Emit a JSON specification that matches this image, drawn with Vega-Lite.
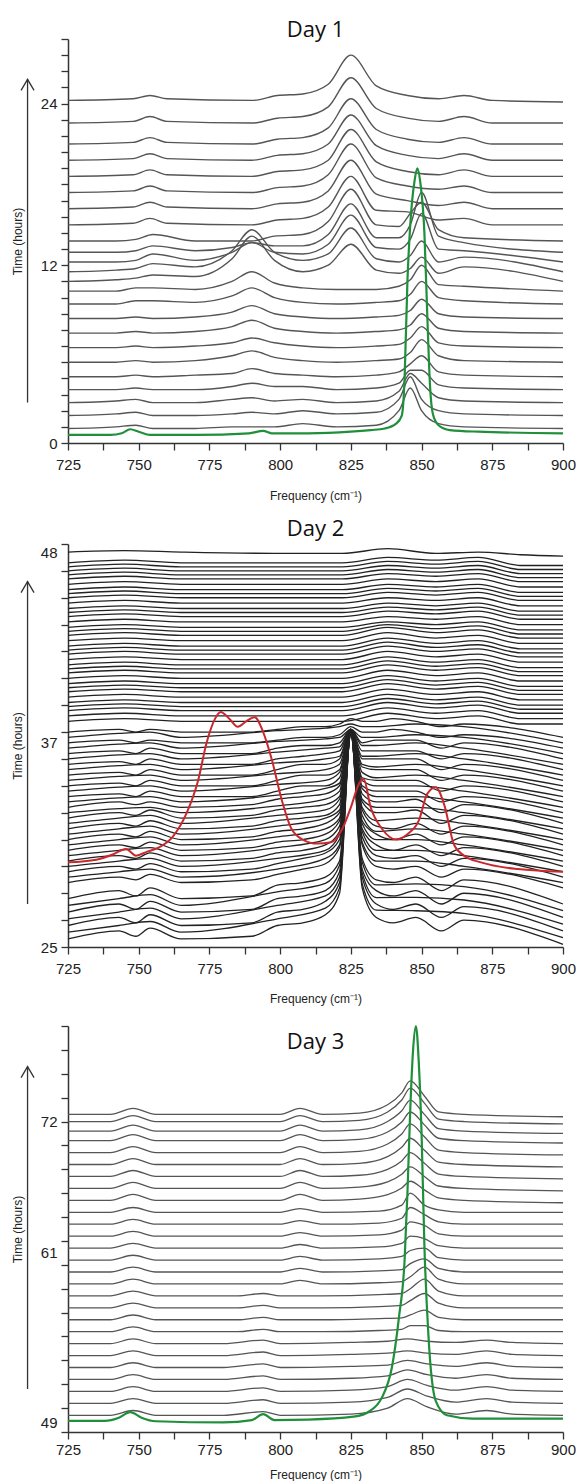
{
"$schema":"https://vega.github.io/schema/vega-lite/v6.json",
"background":"white",
"padding":{"left":11,"top":19,"right":0,"bottom":0},
"spacing":17,
"align":{"row":"none","column":"each"},
"config":{
 "view":{"stroke":null},
 "axis":{"grid":false,"domainColor":"#333","tickColor":"#333","labelColor":"#222","titleColor":"#222","labelFont":"Liberation Sans","titleFont":"Liberation Sans","labelFontSize":15,"titleFontSize":12,"titleFontWeight":"normal","domainWidth":1.5,"tickWidth":1.3,"tickSize":7,"labelOverlap":false,"labelFlush":false},
 "title":{"font":"Open Sans","fontSize":22,"fontWeight":"normal","color":"#111","anchor":"middle","frame":"group"}
},
"datasets":{
"a":[
{"s":1,"x":725,"y":9},{"s":1,"x":742,"y":10},{"s":1,"x":749,"y":11},{"s":1,"x":755,"y":9},{"s":1,"x":770,"y":9},{"s":1,"x":783,"y":10},{"s":1,"x":790,"y":10},{"s":1,"x":798,"y":10},{"s":1,"x":808,"y":12},{"s":1,"x":820,"y":10},{"s":1,"x":834,"y":11},{"s":1,"x":842,"y":20},{"s":1,"x":846,"y":34},{"s":1,"x":850,"y":20},{"s":1,"x":856,"y":12},{"s":1,"x":865,"y":10},{"s":1,"x":900,"y":9},
{"s":2,"x":725,"y":17},{"s":2,"x":742,"y":18},{"s":2,"x":749,"y":19},{"s":2,"x":755,"y":17},{"s":2,"x":770,"y":17},{"s":2,"x":783,"y":18},{"s":2,"x":790,"y":19},{"s":2,"x":798,"y":18},{"s":2,"x":808,"y":20},{"s":2,"x":820,"y":18},{"s":2,"x":834,"y":19},{"s":2,"x":842,"y":27},{"s":2,"x":846,"y":41},{"s":2,"x":850,"y":27},{"s":2,"x":856,"y":20},{"s":2,"x":865,"y":18},{"s":2,"x":900,"y":17},
{"s":3,"x":725,"y":25},{"s":3,"x":742,"y":26},{"s":3,"x":749,"y":27},{"s":3,"x":755,"y":25},{"s":3,"x":770,"y":25},{"s":3,"x":783,"y":27},{"s":3,"x":790,"y":28},{"s":3,"x":798,"y":26},{"s":3,"x":808,"y":27},{"s":3,"x":820,"y":25},{"s":3,"x":834,"y":26},{"s":3,"x":842,"y":32},{"s":3,"x":846,"y":43},{"s":3,"x":850,"y":37},{"s":3,"x":856,"y":28},{"s":3,"x":865,"y":26},{"s":3,"x":900,"y":25},
{"s":4,"x":725,"y":33},{"s":4,"x":742,"y":33},{"s":4,"x":749,"y":34},{"s":4,"x":755,"y":33},{"s":4,"x":770,"y":33},{"s":4,"x":783,"y":35},{"s":4,"x":790,"y":37},{"s":4,"x":798,"y":35},{"s":4,"x":808,"y":35},{"s":4,"x":820,"y":33},{"s":4,"x":834,"y":34},{"s":4,"x":842,"y":37},{"s":4,"x":846,"y":45},{"s":4,"x":850,"y":45},{"s":4,"x":856,"y":36},{"s":4,"x":865,"y":34},{"s":4,"x":900,"y":33},
{"s":5,"x":725,"y":41},{"s":5,"x":742,"y":41},{"s":5,"x":749,"y":42},{"s":5,"x":755,"y":41},{"s":5,"x":770,"y":42},{"s":5,"x":783,"y":43},{"s":5,"x":790,"y":46},{"s":5,"x":798,"y":43},{"s":5,"x":808,"y":42},{"s":5,"x":820,"y":41},{"s":5,"x":834,"y":42},{"s":5,"x":842,"y":44},{"s":5,"x":846,"y":49},{"s":5,"x":850,"y":54},{"s":5,"x":856,"y":44},{"s":5,"x":865,"y":42},{"s":5,"x":900,"y":41},
{"s":6,"x":725,"y":50},{"s":6,"x":742,"y":50},{"s":6,"x":749,"y":51},{"s":6,"x":755,"y":50},{"s":6,"x":770,"y":51},{"s":6,"x":783,"y":54},{"s":6,"x":790,"y":57},{"s":6,"x":798,"y":53},{"s":6,"x":808,"y":51},{"s":6,"x":820,"y":50},{"s":6,"x":834,"y":51},{"s":6,"x":842,"y":52},{"s":6,"x":846,"y":56},{"s":6,"x":850,"y":64},{"s":6,"x":856,"y":54},{"s":6,"x":865,"y":51},{"s":6,"x":900,"y":50},
{"s":7,"x":725,"y":59},{"s":7,"x":742,"y":59},{"s":7,"x":749,"y":60},{"s":7,"x":755,"y":59},{"s":7,"x":770,"y":60},{"s":7,"x":783,"y":62},{"s":7,"x":790,"y":65},{"s":7,"x":798,"y":62},{"s":7,"x":808,"y":60},{"s":7,"x":820,"y":59},{"s":7,"x":834,"y":60},{"s":7,"x":842,"y":61},{"s":7,"x":846,"y":65},{"s":7,"x":850,"y":72},{"s":7,"x":856,"y":62},{"s":7,"x":865,"y":60},{"s":7,"x":900,"y":59},
{"s":8,"x":725,"y":68},{"s":8,"x":742,"y":68},{"s":8,"x":749,"y":69},{"s":8,"x":755,"y":68},{"s":8,"x":770,"y":69},{"s":8,"x":783,"y":72},{"s":8,"x":790,"y":76},{"s":8,"x":798,"y":71},{"s":8,"x":808,"y":69},{"s":8,"x":820,"y":68},{"s":8,"x":834,"y":69},{"s":8,"x":842,"y":70},{"s":8,"x":846,"y":73},{"s":8,"x":850,"y":80},{"s":8,"x":856,"y":71},{"s":8,"x":865,"y":69},{"s":8,"x":900,"y":68},
{"s":9,"x":725,"y":77},{"s":9,"x":742,"y":77},{"s":9,"x":749,"y":78},{"s":9,"x":755,"y":77},{"s":9,"x":770,"y":78},{"s":9,"x":783,"y":81},{"s":9,"x":790,"y":85},{"s":9,"x":798,"y":80},{"s":9,"x":808,"y":78},{"s":9,"x":820,"y":77},{"s":9,"x":834,"y":78},{"s":9,"x":842,"y":79},{"s":9,"x":846,"y":82},{"s":9,"x":850,"y":89},{"s":9,"x":856,"y":80},{"s":9,"x":865,"y":78},{"s":9,"x":900,"y":77},
{"s":10,"x":725,"y":86},{"s":10,"x":742,"y":86},{"s":10,"x":749,"y":88},{"s":10,"x":755,"y":88},{"s":10,"x":770,"y":87},{"s":10,"x":783,"y":91},{"s":10,"x":790,"y":96},{"s":10,"x":798,"y":90},{"s":10,"x":808,"y":87},{"s":10,"x":820,"y":86},{"s":10,"x":834,"y":87},{"s":10,"x":842,"y":88},{"s":10,"x":846,"y":92},{"s":10,"x":850,"y":100},{"s":10,"x":856,"y":90},{"s":10,"x":865,"y":88},{"s":10,"x":900,"y":86},
{"s":11,"x":725,"y":94},{"s":11,"x":742,"y":94},{"s":11,"x":749,"y":96},{"s":11,"x":755,"y":96},{"s":11,"x":770,"y":95},{"s":11,"x":783,"y":100},{"s":11,"x":790,"y":106},{"s":11,"x":798,"y":99},{"s":11,"x":808,"y":96},{"s":11,"x":820,"y":95},{"s":11,"x":834,"y":95},{"s":11,"x":842,"y":97},{"s":11,"x":846,"y":101},{"s":11,"x":850,"y":110},{"s":11,"x":856,"y":98},{"s":11,"x":865,"y":97},{"s":11,"x":900,"y":94},
{"s":12,"x":725,"y":100},{"s":12,"x":742,"y":101},{"s":12,"x":749,"y":102},{"s":12,"x":755,"y":104},{"s":12,"x":770,"y":103},{"s":12,"x":783,"y":114},{"s":12,"x":790,"y":128},{"s":12,"x":798,"y":113},{"s":12,"x":808,"y":106},{"s":12,"x":817,"y":110},{"s":12,"x":825,"y":123},{"s":12,"x":834,"y":107},{"s":12,"x":842,"y":105},{"s":12,"x":846,"y":108},{"s":12,"x":850,"y":115},{"s":12,"x":856,"y":105},{"s":12,"x":865,"y":109},{"s":12,"x":900,"y":100},
{"s":13,"x":725,"y":106},{"s":13,"x":742,"y":107},{"s":13,"x":749,"y":108},{"s":13,"x":755,"y":111},{"s":13,"x":770,"y":109},{"s":13,"x":783,"y":119},{"s":13,"x":790,"y":132},{"s":13,"x":798,"y":118},{"s":13,"x":808,"y":113},{"s":13,"x":817,"y":117},{"s":13,"x":825,"y":133},{"s":13,"x":834,"y":114},{"s":13,"x":842,"y":112},{"s":13,"x":846,"y":116},{"s":13,"x":850,"y":125},{"s":13,"x":856,"y":112},{"s":13,"x":865,"y":115},{"s":13,"x":900,"y":106},
{"s":14,"x":725,"y":112},{"s":14,"x":742,"y":112},{"s":14,"x":749,"y":113},{"s":14,"x":755,"y":117},{"s":14,"x":770,"y":113},{"s":14,"x":783,"y":118},{"s":14,"x":790,"y":124},{"s":14,"x":798,"y":118},{"s":14,"x":808,"y":117},{"s":14,"x":817,"y":123},{"s":14,"x":825,"y":141},{"s":14,"x":834,"y":121},{"s":14,"x":842,"y":120},{"s":14,"x":846,"y":126},{"s":14,"x":850,"y":142},{"s":14,"x":856,"y":120},{"s":14,"x":865,"y":119},{"s":14,"x":900,"y":112},
{"s":15,"x":725,"y":118},{"s":15,"x":742,"y":118},{"s":15,"x":749,"y":119},{"s":15,"x":755,"y":122},{"s":15,"x":770,"y":119},{"s":15,"x":783,"y":121},{"s":15,"x":790,"y":124},{"s":15,"x":798,"y":122},{"s":15,"x":808,"y":122},{"s":15,"x":817,"y":129},{"s":15,"x":825,"y":148},{"s":15,"x":834,"y":127},{"s":15,"x":842,"y":127},{"s":15,"x":846,"y":135},{"s":15,"x":850,"y":155},{"s":15,"x":856,"y":128},{"s":15,"x":865,"y":124},{"s":15,"x":900,"y":118},
{"s":16,"x":725,"y":125},{"s":16,"x":742,"y":125},{"s":16,"x":749,"y":126},{"s":16,"x":755,"y":129},{"s":16,"x":770,"y":125},{"s":16,"x":783,"y":125},{"s":16,"x":790,"y":125},{"s":16,"x":798,"y":128},{"s":16,"x":808,"y":129},{"s":16,"x":817,"y":137},{"s":16,"x":825,"y":157},{"s":16,"x":834,"y":135},{"s":16,"x":842,"y":134},{"s":16,"x":846,"y":142},{"s":16,"x":850,"y":149},{"s":16,"x":856,"y":132},{"s":16,"x":865,"y":127},{"s":16,"x":900,"y":125},
{"s":17,"x":725,"y":135},{"s":17,"x":748,"y":136},{"s":17,"x":754,"y":139},{"s":17,"x":760,"y":136},{"s":17,"x":790,"y":135},{"s":17,"x":799,"y":138},{"s":17,"x":808,"y":139},{"s":17,"x":817,"y":146},{"s":17,"x":825,"y":165},{"s":17,"x":834,"y":144},{"s":17,"x":845,"y":143},{"s":17,"x":856,"y":138},{"s":17,"x":865,"y":139},{"s":17,"x":875,"y":135},{"s":17,"x":900,"y":135},
{"s":18,"x":725,"y":145},{"s":18,"x":748,"y":146},{"s":18,"x":754,"y":149},{"s":18,"x":760,"y":146},{"s":18,"x":790,"y":145},{"s":18,"x":799,"y":148},{"s":18,"x":808,"y":149},{"s":18,"x":817,"y":156},{"s":18,"x":825,"y":175},{"s":18,"x":834,"y":154},{"s":18,"x":845,"y":150},{"s":18,"x":856,"y":147},{"s":18,"x":865,"y":149},{"s":18,"x":875,"y":145},{"s":18,"x":900,"y":145},
{"s":19,"x":725,"y":155},{"s":19,"x":748,"y":156},{"s":19,"x":754,"y":159},{"s":19,"x":760,"y":156},{"s":19,"x":790,"y":155},{"s":19,"x":799,"y":158},{"s":19,"x":808,"y":159},{"s":19,"x":817,"y":166},{"s":19,"x":825,"y":185},{"s":19,"x":834,"y":164},{"s":19,"x":845,"y":159},{"s":19,"x":856,"y":157},{"s":19,"x":865,"y":159},{"s":19,"x":875,"y":155},{"s":19,"x":900,"y":155},
{"s":20,"x":725,"y":165},{"s":20,"x":748,"y":166},{"s":20,"x":754,"y":169},{"s":20,"x":760,"y":166},{"s":20,"x":790,"y":165},{"s":20,"x":799,"y":168},{"s":20,"x":808,"y":169},{"s":20,"x":817,"y":175},{"s":20,"x":825,"y":194},{"s":20,"x":834,"y":174},{"s":20,"x":845,"y":168},{"s":20,"x":856,"y":166},{"s":20,"x":865,"y":169},{"s":20,"x":875,"y":165},{"s":20,"x":900,"y":165},
{"s":21,"x":725,"y":175},{"s":21,"x":748,"y":176},{"s":21,"x":754,"y":179},{"s":21,"x":760,"y":176},{"s":21,"x":790,"y":175},{"s":21,"x":799,"y":178},{"s":21,"x":808,"y":179},{"s":21,"x":817,"y":185},{"s":21,"x":825,"y":203},{"s":21,"x":834,"y":184},{"s":21,"x":845,"y":178},{"s":21,"x":856,"y":176},{"s":21,"x":865,"y":179},{"s":21,"x":875,"y":175},{"s":21,"x":900,"y":175},
{"s":22,"x":725,"y":185},{"s":22,"x":748,"y":186},{"s":22,"x":754,"y":189},{"s":22,"x":760,"y":186},{"s":22,"x":790,"y":185},{"s":22,"x":799,"y":188},{"s":22,"x":808,"y":189},{"s":22,"x":817,"y":195},{"s":22,"x":825,"y":213},{"s":22,"x":834,"y":194},{"s":22,"x":845,"y":188},{"s":22,"x":856,"y":186},{"s":22,"x":865,"y":189},{"s":22,"x":875,"y":185},{"s":22,"x":900,"y":185},
{"s":23,"x":725,"y":198},{"s":23,"x":748,"y":199},{"s":23,"x":754,"y":202},{"s":23,"x":760,"y":199},{"s":23,"x":790,"y":198},{"s":23,"x":799,"y":201},{"s":23,"x":808,"y":202},{"s":23,"x":817,"y":208},{"s":23,"x":825,"y":226},{"s":23,"x":834,"y":207},{"s":23,"x":845,"y":201},{"s":23,"x":856,"y":199},{"s":23,"x":865,"y":202},{"s":23,"x":875,"y":198},{"s":23,"x":900,"y":198},
{"s":24,"x":725,"y":212},{"s":24,"x":748,"y":213},{"s":24,"x":754,"y":215},{"s":24,"x":760,"y":213},{"s":24,"x":790,"y":212},{"s":24,"x":799,"y":215},{"s":24,"x":808,"y":216},{"s":24,"x":817,"y":222},{"s":24,"x":825,"y":240},{"s":24,"x":834,"y":221},{"s":24,"x":845,"y":215},{"s":24,"x":856,"y":213},{"s":24,"x":865,"y":215},{"s":24,"x":875,"y":212},{"s":24,"x":900,"y":211}
],
"g1":[
{"x":725,"y":5},{"x":740,"y":5},{"x":744,"y":6},{"x":747,"y":8.5},{"x":750,"y":7},{"x":754,"y":5},{"x":770,"y":5},{"x":789,"y":6},{"x":794,"y":7.5},{"x":797,"y":6},{"x":810,"y":6},{"x":825,"y":7},{"x":832,"y":8},{"x":837,"y":9},{"x":841,"y":12},{"x":843,"y":17},{"x":844,"y":40},{"x":845,"y":100},{"x":846,"y":135},{"x":847.5,"y":162},{"x":848.5,"y":170},{"x":849.5,"y":162},{"x":851,"y":130},{"x":852,"y":80},{"x":853,"y":35},{"x":854,"y":18},{"x":856,"y":11},{"x":860,"y":8},{"x":870,"y":7},{"x":900,"y":6}
],
"b":[
{"s":1,"x":725,"y":3},{"s":1,"x":743,"y":6},{"s":1,"x":749,"y":4},{"s":1,"x":754,"y":7},{"s":1,"x":765,"y":3},{"s":1,"x":790,"y":4},{"s":1,"x":799,"y":8},{"s":1,"x":808,"y":9},{"s":1,"x":816,"y":12},{"s":1,"x":821,"y":20},{"s":1,"x":825,"y":80},{"s":1,"x":829,"y":22},{"s":1,"x":834,"y":11},{"s":1,"x":840,"y":9},{"s":1,"x":848,"y":11},{"s":1,"x":857,"y":6},{"s":1,"x":865,"y":10},{"s":1,"x":900,"y":1},
{"s":2,"x":725,"y":8},{"s":2,"x":743,"y":11},{"s":2,"x":749,"y":9},{"s":2,"x":754,"y":12},{"s":2,"x":765,"y":8},{"s":2,"x":790,"y":9},{"s":2,"x":799,"y":13},{"s":2,"x":808,"y":14},{"s":2,"x":816,"y":17},{"s":2,"x":821,"y":24},{"s":2,"x":825,"y":80},{"s":2,"x":829,"y":26},{"s":2,"x":834,"y":16},{"s":2,"x":840,"y":14},{"s":2,"x":848,"y":16},{"s":2,"x":857,"y":11},{"s":2,"x":865,"y":15},{"s":2,"x":900,"y":6},
{"s":3,"x":725,"y":13},{"s":3,"x":743,"y":16},{"s":3,"x":749,"y":14},{"s":3,"x":754,"y":17},{"s":3,"x":765,"y":13},{"s":3,"x":790,"y":14},{"s":3,"x":799,"y":18},{"s":3,"x":808,"y":19},{"s":3,"x":816,"y":21},{"s":3,"x":821,"y":28},{"s":3,"x":825,"y":79},{"s":3,"x":829,"y":29},{"s":3,"x":834,"y":21},{"s":3,"x":840,"y":19},{"s":3,"x":848,"y":21},{"s":3,"x":857,"y":16},{"s":3,"x":865,"y":20},{"s":3,"x":900,"y":11},
{"s":4,"x":725,"y":18},{"s":4,"x":743,"y":21},{"s":4,"x":749,"y":19},{"s":4,"x":754,"y":22},{"s":4,"x":765,"y":18},{"s":4,"x":790,"y":19},{"s":4,"x":799,"y":23},{"s":4,"x":808,"y":24},{"s":4,"x":816,"y":26},{"s":4,"x":821,"y":32},{"s":4,"x":825,"y":79},{"s":4,"x":829,"y":33},{"s":4,"x":834,"y":25},{"s":4,"x":840,"y":24},{"s":4,"x":848,"y":26},{"s":4,"x":857,"y":21},{"s":4,"x":865,"y":25},{"s":4,"x":900,"y":16},
{"s":5,"x":725,"y":24},{"s":5,"x":743,"y":26},{"s":5,"x":749,"y":25},{"s":5,"x":754,"y":27},{"s":5,"x":765,"y":24},{"s":5,"x":790,"y":25},{"s":5,"x":799,"y":27},{"s":5,"x":808,"y":29},{"s":5,"x":816,"y":31},{"s":5,"x":821,"y":37},{"s":5,"x":825,"y":81},{"s":5,"x":829,"y":38},{"s":5,"x":834,"y":30},{"s":5,"x":840,"y":29},{"s":5,"x":848,"y":30},{"s":5,"x":857,"y":26},{"s":5,"x":865,"y":29},{"s":5,"x":900,"y":22},
{"s":6,"x":725,"y":28},{"s":6,"x":743,"y":30},{"s":6,"x":749,"y":29},{"s":6,"x":754,"y":31},{"s":6,"x":765,"y":28},{"s":6,"x":790,"y":29},{"s":6,"x":799,"y":31},{"s":6,"x":808,"y":33},{"s":6,"x":816,"y":35},{"s":6,"x":821,"y":40},{"s":6,"x":825,"y":81},{"s":6,"x":829,"y":41},{"s":6,"x":834,"y":34},{"s":6,"x":840,"y":33},{"s":6,"x":848,"y":34},{"s":6,"x":857,"y":30},{"s":6,"x":865,"y":33},{"s":6,"x":900,"y":26},
{"s":7,"x":725,"y":32},{"s":7,"x":743,"y":34},{"s":7,"x":749,"y":33},{"s":7,"x":754,"y":35},{"s":7,"x":765,"y":32},{"s":7,"x":790,"y":33},{"s":7,"x":799,"y":35},{"s":7,"x":808,"y":36},{"s":7,"x":816,"y":38},{"s":7,"x":821,"y":43},{"s":7,"x":825,"y":81},{"s":7,"x":829,"y":44},{"s":7,"x":834,"y":38},{"s":7,"x":840,"y":36},{"s":7,"x":848,"y":38},{"s":7,"x":857,"y":34},{"s":7,"x":865,"y":37},{"s":7,"x":900,"y":30},
{"s":8,"x":725,"y":36},{"s":8,"x":743,"y":38},{"s":8,"x":749,"y":37},{"s":8,"x":754,"y":39},{"s":8,"x":765,"y":36},{"s":8,"x":790,"y":37},{"s":8,"x":799,"y":39},{"s":8,"x":808,"y":40},{"s":8,"x":816,"y":42},{"s":8,"x":821,"y":47},{"s":8,"x":825,"y":81},{"s":8,"x":829,"y":47},{"s":8,"x":834,"y":42},{"s":8,"x":840,"y":40},{"s":8,"x":848,"y":42},{"s":8,"x":857,"y":38},{"s":8,"x":865,"y":41},{"s":8,"x":900,"y":34},
{"s":9,"x":725,"y":40},{"s":9,"x":743,"y":42},{"s":9,"x":749,"y":41},{"s":9,"x":754,"y":43},{"s":9,"x":765,"y":40},{"s":9,"x":790,"y":41},{"s":9,"x":799,"y":43},{"s":9,"x":808,"y":44},{"s":9,"x":816,"y":46},{"s":9,"x":821,"y":50},{"s":9,"x":825,"y":81},{"s":9,"x":829,"y":51},{"s":9,"x":834,"y":45},{"s":9,"x":840,"y":44},{"s":9,"x":848,"y":46},{"s":9,"x":857,"y":42},{"s":9,"x":865,"y":45},{"s":9,"x":900,"y":38},
{"s":10,"x":725,"y":44},{"s":10,"x":743,"y":46},{"s":10,"x":749,"y":45},{"s":10,"x":754,"y":47},{"s":10,"x":765,"y":44},{"s":10,"x":790,"y":45},{"s":10,"x":799,"y":47},{"s":10,"x":808,"y":48},{"s":10,"x":816,"y":49},{"s":10,"x":821,"y":53},{"s":10,"x":825,"y":81},{"s":10,"x":829,"y":54},{"s":10,"x":834,"y":50},{"s":10,"x":840,"y":50},{"s":10,"x":848,"y":51},{"s":10,"x":857,"y":46},{"s":10,"x":865,"y":49},{"s":10,"x":900,"y":42},
{"s":11,"x":725,"y":48},{"s":11,"x":743,"y":50},{"s":11,"x":749,"y":49},{"s":11,"x":754,"y":51},{"s":11,"x":765,"y":48},{"s":11,"x":790,"y":49},{"s":11,"x":799,"y":51},{"s":11,"x":808,"y":52},{"s":11,"x":816,"y":53},{"s":11,"x":821,"y":56},{"s":11,"x":825,"y":81},{"s":11,"x":829,"y":57},{"s":11,"x":834,"y":54},{"s":11,"x":840,"y":54},{"s":11,"x":848,"y":55},{"s":11,"x":857,"y":50},{"s":11,"x":865,"y":53},{"s":11,"x":900,"y":46},
{"s":12,"x":725,"y":52},{"s":12,"x":743,"y":54},{"s":12,"x":749,"y":53},{"s":12,"x":754,"y":54},{"s":12,"x":765,"y":52},{"s":12,"x":790,"y":53},{"s":12,"x":799,"y":55},{"s":12,"x":808,"y":56},{"s":12,"x":816,"y":57},{"s":12,"x":821,"y":60},{"s":12,"x":825,"y":81},{"s":12,"x":829,"y":60},{"s":12,"x":834,"y":58},{"s":12,"x":840,"y":58},{"s":12,"x":848,"y":58},{"s":12,"x":857,"y":54},{"s":12,"x":865,"y":56},{"s":12,"x":900,"y":50},
{"s":13,"x":725,"y":56},{"s":13,"x":743,"y":57},{"s":13,"x":749,"y":56},{"s":13,"x":754,"y":58},{"s":13,"x":765,"y":56},{"s":13,"x":790,"y":56},{"s":13,"x":799,"y":58},{"s":13,"x":808,"y":60},{"s":13,"x":816,"y":60},{"s":13,"x":821,"y":63},{"s":13,"x":825,"y":81},{"s":13,"x":829,"y":63},{"s":13,"x":834,"y":62},{"s":13,"x":840,"y":62},{"s":13,"x":848,"y":62},{"s":13,"x":857,"y":58},{"s":13,"x":865,"y":60},{"s":13,"x":900,"y":54},
{"s":14,"x":725,"y":60},{"s":14,"x":743,"y":61},{"s":14,"x":749,"y":60},{"s":14,"x":754,"y":62},{"s":14,"x":765,"y":60},{"s":14,"x":790,"y":60},{"s":14,"x":799,"y":62},{"s":14,"x":808,"y":64},{"s":14,"x":816,"y":64},{"s":14,"x":821,"y":66},{"s":14,"x":825,"y":81},{"s":14,"x":829,"y":67},{"s":14,"x":834,"y":66},{"s":14,"x":840,"y":66},{"s":14,"x":848,"y":66},{"s":14,"x":857,"y":62},{"s":14,"x":865,"y":64},{"s":14,"x":900,"y":58},
{"s":15,"x":725,"y":64},{"s":15,"x":743,"y":65},{"s":15,"x":749,"y":64},{"s":15,"x":754,"y":66},{"s":15,"x":765,"y":64},{"s":15,"x":790,"y":64},{"s":15,"x":799,"y":66},{"s":15,"x":808,"y":68},{"s":15,"x":816,"y":68},{"s":15,"x":821,"y":70},{"s":15,"x":825,"y":81},{"s":15,"x":829,"y":70},{"s":15,"x":834,"y":70},{"s":15,"x":840,"y":70},{"s":15,"x":848,"y":70},{"s":15,"x":857,"y":66},{"s":15,"x":865,"y":68},{"s":15,"x":900,"y":62},
{"s":16,"x":725,"y":68},{"s":16,"x":743,"y":69},{"s":16,"x":749,"y":68},{"s":16,"x":754,"y":70},{"s":16,"x":765,"y":68},{"s":16,"x":790,"y":68},{"s":16,"x":799,"y":70},{"s":16,"x":808,"y":71},{"s":16,"x":816,"y":72},{"s":16,"x":821,"y":73},{"s":16,"x":825,"y":81},{"s":16,"x":829,"y":73},{"s":16,"x":834,"y":73},{"s":16,"x":840,"y":73},{"s":16,"x":848,"y":73},{"s":16,"x":857,"y":70},{"s":16,"x":865,"y":72},{"s":16,"x":900,"y":66},
{"s":17,"x":725,"y":72},{"s":17,"x":743,"y":73},{"s":17,"x":749,"y":72},{"s":17,"x":754,"y":74},{"s":17,"x":765,"y":72},{"s":17,"x":790,"y":72},{"s":17,"x":799,"y":74},{"s":17,"x":808,"y":75},{"s":17,"x":816,"y":75},{"s":17,"x":821,"y":76},{"s":17,"x":825,"y":81},{"s":17,"x":829,"y":76},{"s":17,"x":834,"y":77},{"s":17,"x":840,"y":77},{"s":17,"x":848,"y":77},{"s":17,"x":857,"y":74},{"s":17,"x":865,"y":76},{"s":17,"x":900,"y":70},
{"s":18,"x":725,"y":76},{"s":18,"x":743,"y":77},{"s":18,"x":749,"y":76},{"s":18,"x":754,"y":77},{"s":18,"x":765,"y":76},{"s":18,"x":790,"y":76},{"s":18,"x":799,"y":77},{"s":18,"x":808,"y":78},{"s":18,"x":816,"y":78},{"s":18,"x":821,"y":79},{"s":18,"x":825,"y":82},{"s":18,"x":829,"y":80},{"s":18,"x":834,"y":80},{"s":18,"x":840,"y":81},{"s":18,"x":848,"y":80},{"s":18,"x":857,"y":78},{"s":18,"x":865,"y":79},{"s":18,"x":900,"y":74},
{"s":19,"x":725,"y":80},{"s":19,"x":743,"y":81},{"s":19,"x":749,"y":80},{"s":19,"x":754,"y":81},{"s":19,"x":765,"y":80},{"s":19,"x":790,"y":80},{"s":19,"x":799,"y":81},{"s":19,"x":808,"y":82},{"s":19,"x":816,"y":82},{"s":19,"x":821,"y":83},{"s":19,"x":825,"y":85},{"s":19,"x":829,"y":84},{"s":19,"x":834,"y":84},{"s":19,"x":840,"y":85},{"s":19,"x":848,"y":84},{"s":19,"x":857,"y":82},{"s":19,"x":865,"y":83},{"s":19,"x":900,"y":78},
{"s":20,"x":725,"y":84},{"s":20,"x":745,"y":85},{"s":20,"x":765,"y":84},{"s":20,"x":800,"y":84},{"s":20,"x":822,"y":84},{"s":20,"x":838,"y":87},{"s":20,"x":855,"y":85},{"s":20,"x":870,"y":86},{"s":20,"x":885,"y":83},{"s":20,"x":900,"y":83},
{"s":21,"x":725,"y":88},{"s":21,"x":745,"y":89},{"s":21,"x":765,"y":88},{"s":21,"x":800,"y":88},{"s":21,"x":822,"y":88},{"s":21,"x":838,"y":91},{"s":21,"x":855,"y":89},{"s":21,"x":870,"y":90},{"s":21,"x":885,"y":87},{"s":21,"x":900,"y":87},
{"s":22,"x":725,"y":91},{"s":22,"x":745,"y":92},{"s":22,"x":765,"y":91},{"s":22,"x":800,"y":91},{"s":22,"x":822,"y":91},{"s":22,"x":838,"y":94},{"s":22,"x":855,"y":92},{"s":22,"x":870,"y":93},{"s":22,"x":885,"y":90},{"s":22,"x":900,"y":90},
{"s":23,"x":725,"y":95},{"s":23,"x":745,"y":96},{"s":23,"x":765,"y":95},{"s":23,"x":800,"y":95},{"s":23,"x":822,"y":95},{"s":23,"x":838,"y":98},{"s":23,"x":855,"y":96},{"s":23,"x":870,"y":97},{"s":23,"x":885,"y":94},{"s":23,"x":900,"y":94},
{"s":24,"x":725,"y":98},{"s":24,"x":745,"y":99},{"s":24,"x":765,"y":98},{"s":24,"x":800,"y":98},{"s":24,"x":822,"y":98},{"s":24,"x":838,"y":101},{"s":24,"x":855,"y":99},{"s":24,"x":870,"y":100},{"s":24,"x":885,"y":97},{"s":24,"x":900,"y":97},
{"s":25,"x":725,"y":102},{"s":25,"x":745,"y":103},{"s":25,"x":765,"y":102},{"s":25,"x":800,"y":102},{"s":25,"x":822,"y":102},{"s":25,"x":838,"y":105},{"s":25,"x":855,"y":103},{"s":25,"x":870,"y":104},{"s":25,"x":885,"y":101},{"s":25,"x":900,"y":101},
{"s":26,"x":725,"y":105},{"s":26,"x":745,"y":106},{"s":26,"x":765,"y":105},{"s":26,"x":800,"y":105},{"s":26,"x":822,"y":105},{"s":26,"x":838,"y":108},{"s":26,"x":855,"y":106},{"s":26,"x":870,"y":107},{"s":26,"x":885,"y":104},{"s":26,"x":900,"y":104},
{"s":27,"x":725,"y":109},{"s":27,"x":745,"y":110},{"s":27,"x":765,"y":109},{"s":27,"x":800,"y":109},{"s":27,"x":822,"y":109},{"s":27,"x":838,"y":112},{"s":27,"x":855,"y":110},{"s":27,"x":870,"y":111},{"s":27,"x":885,"y":108},{"s":27,"x":900,"y":108},
{"s":28,"x":725,"y":112},{"s":28,"x":745,"y":113},{"s":28,"x":765,"y":112},{"s":28,"x":800,"y":112},{"s":28,"x":822,"y":112},{"s":28,"x":838,"y":115},{"s":28,"x":855,"y":113},{"s":28,"x":870,"y":114},{"s":28,"x":885,"y":111},{"s":28,"x":900,"y":111},
{"s":29,"x":725,"y":116},{"s":29,"x":745,"y":117},{"s":29,"x":765,"y":116},{"s":29,"x":800,"y":116},{"s":29,"x":822,"y":116},{"s":29,"x":838,"y":119},{"s":29,"x":855,"y":117},{"s":29,"x":870,"y":118},{"s":29,"x":885,"y":115},{"s":29,"x":900,"y":115},
{"s":30,"x":725,"y":119},{"s":30,"x":745,"y":120},{"s":30,"x":765,"y":119},{"s":30,"x":800,"y":119},{"s":30,"x":822,"y":119},{"s":30,"x":838,"y":121},{"s":30,"x":855,"y":120},{"s":30,"x":870,"y":121},{"s":30,"x":885,"y":118},{"s":30,"x":900,"y":118},
{"s":31,"x":725,"y":123},{"s":31,"x":745,"y":124},{"s":31,"x":765,"y":123},{"s":31,"x":800,"y":123},{"s":31,"x":822,"y":123},{"s":31,"x":838,"y":125},{"s":31,"x":855,"y":124},{"s":31,"x":870,"y":125},{"s":31,"x":885,"y":122},{"s":31,"x":900,"y":122},
{"s":32,"x":725,"y":126},{"s":32,"x":745,"y":127},{"s":32,"x":765,"y":126},{"s":32,"x":800,"y":126},{"s":32,"x":822,"y":126},{"s":32,"x":838,"y":128},{"s":32,"x":855,"y":127},{"s":32,"x":870,"y":128},{"s":32,"x":885,"y":125},{"s":32,"x":900,"y":125},
{"s":33,"x":725,"y":130},{"s":33,"x":745,"y":131},{"s":33,"x":765,"y":130},{"s":33,"x":800,"y":130},{"s":33,"x":822,"y":130},{"s":33,"x":838,"y":132},{"s":33,"x":855,"y":131},{"s":33,"x":870,"y":132},{"s":33,"x":885,"y":129},{"s":33,"x":900,"y":129},
{"s":34,"x":725,"y":133},{"s":34,"x":745,"y":134},{"s":34,"x":765,"y":133},{"s":34,"x":800,"y":133},{"s":34,"x":822,"y":133},{"s":34,"x":838,"y":135},{"s":34,"x":855,"y":134},{"s":34,"x":870,"y":135},{"s":34,"x":885,"y":132},{"s":34,"x":900,"y":132},
{"s":35,"x":725,"y":137},{"s":35,"x":745,"y":138},{"s":35,"x":765,"y":137},{"s":35,"x":800,"y":137},{"s":35,"x":822,"y":137},{"s":35,"x":838,"y":139},{"s":35,"x":855,"y":138},{"s":35,"x":870,"y":139},{"s":35,"x":885,"y":136},{"s":35,"x":900,"y":136},
{"s":36,"x":725,"y":140},{"s":36,"x":745,"y":141},{"s":36,"x":765,"y":140},{"s":36,"x":800,"y":140},{"s":36,"x":822,"y":140},{"s":36,"x":838,"y":142},{"s":36,"x":855,"y":141},{"s":36,"x":870,"y":142},{"s":36,"x":885,"y":139},{"s":36,"x":900,"y":139},
{"s":37,"x":725,"y":143},{"s":37,"x":745,"y":144},{"s":37,"x":765,"y":143},{"s":37,"x":800,"y":143},{"s":37,"x":822,"y":143},{"s":37,"x":838,"y":145},{"s":37,"x":855,"y":144},{"s":37,"x":870,"y":145},{"s":37,"x":885,"y":142},{"s":37,"x":900,"y":142},
{"s":38,"x":725,"y":147},{"s":38,"x":745,"y":147.5},{"s":38,"x":765,"y":147},{"s":38,"x":800,"y":146.5},{"s":38,"x":822,"y":146.5},{"s":38,"x":838,"y":148.3},{"s":38,"x":855,"y":146.5},{"s":38,"x":870,"y":147},{"s":38,"x":885,"y":146},{"s":38,"x":900,"y":145.5},
{"s":39,"x":725,"y":86},{"s":39,"x":745,"y":87},{"s":39,"x":765,"y":86},{"s":39,"x":800,"y":86},{"s":39,"x":822,"y":86},{"s":39,"x":838,"y":89},{"s":39,"x":855,"y":87},{"s":39,"x":870,"y":88},{"s":39,"x":885,"y":85},{"s":39,"x":900,"y":85},
{"s":40,"x":725,"y":89.5},{"s":40,"x":745,"y":90.5},{"s":40,"x":765,"y":89.5},{"s":40,"x":800,"y":89.5},{"s":40,"x":822,"y":89.5},{"s":40,"x":838,"y":92.5},{"s":40,"x":855,"y":90.5},{"s":40,"x":870,"y":91.5},{"s":40,"x":885,"y":88.5},{"s":40,"x":900,"y":88.5},
{"s":41,"x":725,"y":93},{"s":41,"x":745,"y":94},{"s":41,"x":765,"y":93},{"s":41,"x":800,"y":93},{"s":41,"x":822,"y":93},{"s":41,"x":838,"y":96},{"s":41,"x":855,"y":94},{"s":41,"x":870,"y":95},{"s":41,"x":885,"y":92},{"s":41,"x":900,"y":92},
{"s":42,"x":725,"y":96.5},{"s":42,"x":745,"y":97.5},{"s":42,"x":765,"y":96.5},{"s":42,"x":800,"y":96.5},{"s":42,"x":822,"y":96.5},{"s":42,"x":838,"y":99.5},{"s":42,"x":855,"y":97.5},{"s":42,"x":870,"y":98.5},{"s":42,"x":885,"y":95.5},{"s":42,"x":900,"y":95.5},
{"s":43,"x":725,"y":100},{"s":43,"x":745,"y":101},{"s":43,"x":765,"y":100},{"s":43,"x":800,"y":100},{"s":43,"x":822,"y":100},{"s":43,"x":838,"y":103},{"s":43,"x":855,"y":101},{"s":43,"x":870,"y":102},{"s":43,"x":885,"y":99},{"s":43,"x":900,"y":99},
{"s":44,"x":725,"y":103.5},{"s":44,"x":745,"y":104.5},{"s":44,"x":765,"y":103.5},{"s":44,"x":800,"y":103.5},{"s":44,"x":822,"y":103.5},{"s":44,"x":838,"y":106.5},{"s":44,"x":855,"y":104.5},{"s":44,"x":870,"y":105.5},{"s":44,"x":885,"y":102.5},{"s":44,"x":900,"y":102.5},
{"s":45,"x":725,"y":107},{"s":45,"x":745,"y":108},{"s":45,"x":765,"y":107},{"s":45,"x":800,"y":107},{"s":45,"x":822,"y":107},{"s":45,"x":838,"y":110},{"s":45,"x":855,"y":108},{"s":45,"x":870,"y":109},{"s":45,"x":885,"y":106},{"s":45,"x":900,"y":106},
{"s":46,"x":725,"y":110.5},{"s":46,"x":745,"y":111.5},{"s":46,"x":765,"y":110.5},{"s":46,"x":800,"y":110.5},{"s":46,"x":822,"y":110.5},{"s":46,"x":838,"y":113.5},{"s":46,"x":855,"y":111.5},{"s":46,"x":870,"y":112.5},{"s":46,"x":885,"y":109.5},{"s":46,"x":900,"y":109.5},
{"s":47,"x":725,"y":114},{"s":47,"x":745,"y":115},{"s":47,"x":765,"y":114},{"s":47,"x":800,"y":114},{"s":47,"x":822,"y":114},{"s":47,"x":838,"y":117},{"s":47,"x":855,"y":115},{"s":47,"x":870,"y":116},{"s":47,"x":885,"y":113},{"s":47,"x":900,"y":113},
{"s":48,"x":725,"y":117.5},{"s":48,"x":745,"y":118.5},{"s":48,"x":765,"y":117.5},{"s":48,"x":800,"y":117.5},{"s":48,"x":822,"y":117.5},{"s":48,"x":838,"y":120},{"s":48,"x":855,"y":118.5},{"s":48,"x":870,"y":119.5},{"s":48,"x":885,"y":116.5},{"s":48,"x":900,"y":116.5},
{"s":49,"x":725,"y":121},{"s":49,"x":745,"y":122},{"s":49,"x":765,"y":121},{"s":49,"x":800,"y":121},{"s":49,"x":822,"y":121},{"s":49,"x":838,"y":123},{"s":49,"x":855,"y":122},{"s":49,"x":870,"y":123},{"s":49,"x":885,"y":120},{"s":49,"x":900,"y":120},
{"s":50,"x":725,"y":124.5},{"s":50,"x":745,"y":125.5},{"s":50,"x":765,"y":124.5},{"s":50,"x":800,"y":124.5},{"s":50,"x":822,"y":124.5},{"s":50,"x":838,"y":126.5},{"s":50,"x":855,"y":125.5},{"s":50,"x":870,"y":126.5},{"s":50,"x":885,"y":123.5},{"s":50,"x":900,"y":123.5},
{"s":51,"x":725,"y":128},{"s":51,"x":745,"y":129},{"s":51,"x":765,"y":128},{"s":51,"x":800,"y":128},{"s":51,"x":822,"y":128},{"s":51,"x":838,"y":130},{"s":51,"x":855,"y":129},{"s":51,"x":870,"y":130},{"s":51,"x":885,"y":127},{"s":51,"x":900,"y":127},
{"s":52,"x":725,"y":131.5},{"s":52,"x":745,"y":132.5},{"s":52,"x":765,"y":131.5},{"s":52,"x":800,"y":131.5},{"s":52,"x":822,"y":131.5},{"s":52,"x":838,"y":133.5},{"s":52,"x":855,"y":132.5},{"s":52,"x":870,"y":133.5},{"s":52,"x":885,"y":130.5},{"s":52,"x":900,"y":130.5},
{"s":53,"x":725,"y":135},{"s":53,"x":745,"y":136},{"s":53,"x":765,"y":135},{"s":53,"x":800,"y":135},{"s":53,"x":822,"y":135},{"s":53,"x":838,"y":137},{"s":53,"x":855,"y":136},{"s":53,"x":870,"y":137},{"s":53,"x":885,"y":134},{"s":53,"x":900,"y":134},
{"s":54,"x":725,"y":138.5},{"s":54,"x":745,"y":139.5},{"s":54,"x":765,"y":138.5},{"s":54,"x":800,"y":138.5},{"s":54,"x":822,"y":138.5},{"s":54,"x":838,"y":140.5},{"s":54,"x":855,"y":139.5},{"s":54,"x":870,"y":140.5},{"s":54,"x":885,"y":137.5},{"s":54,"x":900,"y":137.5},
{"s":55,"x":725,"y":141.5},{"s":55,"x":745,"y":142.5},{"s":55,"x":765,"y":141.5},{"s":55,"x":800,"y":141.5},{"s":55,"x":822,"y":141.5},{"s":55,"x":838,"y":143.5},{"s":55,"x":855,"y":142.5},{"s":55,"x":870,"y":143.5},{"s":55,"x":885,"y":140.5},{"s":55,"x":900,"y":140.5},
{"s":56,"x":725,"y":26},{"s":56,"x":743,"y":28},{"s":56,"x":754,"y":29},{"s":56,"x":765,"y":26},{"s":56,"x":799,"y":29},{"s":56,"x":816,"y":33},{"s":56,"x":821,"y":38},{"s":56,"x":825,"y":81},{"s":56,"x":829,"y":39},{"s":56,"x":834,"y":32},{"s":56,"x":848,"y":32},{"s":56,"x":865,"y":30},{"s":56,"x":900,"y":24},
{"s":57,"x":725,"y":30},{"s":57,"x":743,"y":32},{"s":57,"x":754,"y":33},{"s":57,"x":765,"y":30},{"s":57,"x":799,"y":33},{"s":57,"x":816,"y":36},{"s":57,"x":821,"y":42},{"s":57,"x":825,"y":81},{"s":57,"x":829,"y":43},{"s":57,"x":834,"y":36},{"s":57,"x":848,"y":36},{"s":57,"x":865,"y":34},{"s":57,"x":900,"y":28},
{"s":58,"x":725,"y":34},{"s":58,"x":743,"y":36},{"s":58,"x":754,"y":37},{"s":58,"x":765,"y":34},{"s":58,"x":799,"y":37},{"s":58,"x":816,"y":40},{"s":58,"x":821,"y":45},{"s":58,"x":825,"y":81},{"s":58,"x":829,"y":46},{"s":58,"x":834,"y":40},{"s":58,"x":848,"y":40},{"s":58,"x":865,"y":38},{"s":58,"x":900,"y":32},
{"s":59,"x":725,"y":38},{"s":59,"x":743,"y":40},{"s":59,"x":754,"y":41},{"s":59,"x":765,"y":38},{"s":59,"x":799,"y":41},{"s":59,"x":816,"y":44},{"s":59,"x":821,"y":48},{"s":59,"x":825,"y":81},{"s":59,"x":829,"y":49},{"s":59,"x":834,"y":43},{"s":59,"x":848,"y":44},{"s":59,"x":865,"y":42},{"s":59,"x":900,"y":36},
{"s":60,"x":725,"y":42},{"s":60,"x":743,"y":44},{"s":60,"x":754,"y":45},{"s":60,"x":765,"y":42},{"s":60,"x":799,"y":45},{"s":60,"x":816,"y":48},{"s":60,"x":821,"y":51},{"s":60,"x":825,"y":81},{"s":60,"x":829,"y":52},{"s":60,"x":834,"y":47},{"s":60,"x":848,"y":48},{"s":60,"x":865,"y":46},{"s":60,"x":900,"y":40},
{"s":61,"x":725,"y":46},{"s":61,"x":743,"y":48},{"s":61,"x":754,"y":49},{"s":61,"x":765,"y":46},{"s":61,"x":799,"y":49},{"s":61,"x":816,"y":51},{"s":61,"x":821,"y":55},{"s":61,"x":825,"y":81},{"s":61,"x":829,"y":55},{"s":61,"x":834,"y":52},{"s":61,"x":848,"y":52},{"s":61,"x":865,"y":50},{"s":61,"x":900,"y":44},
{"s":62,"x":725,"y":50},{"s":62,"x":743,"y":51.5},{"s":62,"x":754,"y":52},{"s":62,"x":765,"y":50},{"s":62,"x":799,"y":52.5},{"s":62,"x":816,"y":55},{"s":62,"x":821,"y":58},{"s":62,"x":825,"y":81},{"s":62,"x":829,"y":59},{"s":62,"x":834,"y":56},{"s":62,"x":848,"y":56},{"s":62,"x":865,"y":54},{"s":62,"x":900,"y":48},
{"s":63,"x":725,"y":54},{"s":63,"x":743,"y":55.5},{"s":63,"x":754,"y":56},{"s":63,"x":765,"y":54},{"s":63,"x":799,"y":56.5},{"s":63,"x":816,"y":59},{"s":63,"x":821,"y":61},{"s":63,"x":825,"y":81},{"s":63,"x":829,"y":62},{"s":63,"x":834,"y":60},{"s":63,"x":848,"y":60},{"s":63,"x":865,"y":58},{"s":63,"x":900,"y":52},
{"s":64,"x":725,"y":58},{"s":64,"x":743,"y":59.5},{"s":64,"x":754,"y":60},{"s":64,"x":765,"y":58},{"s":64,"x":799,"y":60.5},{"s":64,"x":816,"y":62},{"s":64,"x":821,"y":65},{"s":64,"x":825,"y":81},{"s":64,"x":829,"y":65},{"s":64,"x":834,"y":63},{"s":64,"x":848,"y":64},{"s":64,"x":865,"y":62},{"s":64,"x":900,"y":56},
{"s":65,"x":725,"y":62},{"s":65,"x":743,"y":63.5},{"s":65,"x":754,"y":64},{"s":65,"x":765,"y":62},{"s":65,"x":799,"y":64.5},{"s":65,"x":816,"y":66},{"s":65,"x":821,"y":68},{"s":65,"x":825,"y":81},{"s":65,"x":829,"y":68},{"s":65,"x":834,"y":67},{"s":65,"x":848,"y":68},{"s":65,"x":865,"y":66},{"s":65,"x":900,"y":60},
{"s":66,"x":725,"y":66},{"s":66,"x":743,"y":67.5},{"s":66,"x":754,"y":68},{"s":66,"x":765,"y":66},{"s":66,"x":799,"y":68.5},{"s":66,"x":816,"y":70},{"s":66,"x":821,"y":71},{"s":66,"x":825,"y":81},{"s":66,"x":829,"y":71},{"s":66,"x":834,"y":71},{"s":66,"x":848,"y":72},{"s":66,"x":865,"y":70},{"s":66,"x":900,"y":64},
{"s":67,"x":725,"y":70},{"s":67,"x":743,"y":71.5},{"s":67,"x":754,"y":72},{"s":67,"x":765,"y":70},{"s":67,"x":799,"y":72.5},{"s":67,"x":816,"y":74},{"s":67,"x":821,"y":74.5},{"s":67,"x":825,"y":81},{"s":67,"x":829,"y":75},{"s":67,"x":834,"y":75},{"s":67,"x":848,"y":76},{"s":67,"x":865,"y":74},{"s":67,"x":900,"y":68},
{"s":68,"x":725,"y":74},{"s":68,"x":743,"y":75.5},{"s":68,"x":754,"y":76},{"s":68,"x":765,"y":74},{"s":68,"x":799,"y":76.5},{"s":68,"x":816,"y":77.5},{"s":68,"x":821,"y":78},{"s":68,"x":825,"y":81},{"s":68,"x":829,"y":78},{"s":68,"x":834,"y":78},{"s":68,"x":848,"y":79},{"s":68,"x":865,"y":78},{"s":68,"x":900,"y":72},
{"s":69,"x":725,"y":78},{"s":69,"x":743,"y":79.5},{"s":69,"x":754,"y":80},{"s":69,"x":765,"y":78},{"s":69,"x":799,"y":80.5},{"s":69,"x":816,"y":81.5},{"s":69,"x":821,"y":82},{"s":69,"x":825,"y":83},{"s":69,"x":829,"y":82},{"s":69,"x":834,"y":82},{"s":69,"x":848,"y":83},{"s":69,"x":865,"y":82},{"s":69,"x":900,"y":76},
{"s":70,"x":725,"y":5.5},{"s":70,"x":743,"y":8},{"s":70,"x":754,"y":9.5},{"s":70,"x":765,"y":5.5},{"s":70,"x":799,"y":10.5},{"s":70,"x":816,"y":14.5},{"s":70,"x":821,"y":22},{"s":70,"x":825,"y":80},{"s":70,"x":829,"y":23.6},{"s":70,"x":834,"y":13.7},{"s":70,"x":848,"y":13.5},{"s":70,"x":865,"y":12.5},{"s":70,"x":900,"y":3.5},
{"s":71,"x":725,"y":10.5},{"s":71,"x":743,"y":13},{"s":71,"x":754,"y":14.5},{"s":71,"x":765,"y":10.5},{"s":71,"x":799,"y":15.5},{"s":71,"x":816,"y":19},{"s":71,"x":821,"y":26},{"s":71,"x":825,"y":80},{"s":71,"x":829,"y":27.6},{"s":71,"x":834,"y":18.4},{"s":71,"x":848,"y":18.5},{"s":71,"x":865,"y":17.5},{"s":71,"x":900,"y":8.5},
{"s":72,"x":725,"y":15.5},{"s":72,"x":743,"y":18},{"s":72,"x":754,"y":19.5},{"s":72,"x":765,"y":15.5},{"s":72,"x":799,"y":20.5},{"s":72,"x":816,"y":23.7},{"s":72,"x":821,"y":30.4},{"s":72,"x":825,"y":79},{"s":72,"x":829,"y":31.6},{"s":72,"x":834,"y":23.1},{"s":72,"x":848,"y":23.5},{"s":72,"x":865,"y":22.5},{"s":72,"x":900,"y":13.5}
],
"r2":[
{"x":725,"y":31.5},{"x":735,"y":32.5},{"x":741,"y":34.5},{"x":745.5,"y":36.5},{"x":749,"y":34},{"x":753,"y":35.5},{"x":757,"y":37},{"x":762,"y":41},{"x":767,"y":50},{"x":771,"y":62},{"x":774,"y":76},{"x":777,"y":85},{"x":779,"y":87.5},{"x":782,"y":85},{"x":785,"y":82},{"x":788,"y":84},{"x":791,"y":85.5},{"x":794,"y":80},{"x":797,"y":70},{"x":800.5,"y":55},{"x":804,"y":44},{"x":808,"y":40},{"x":813,"y":38.5},{"x":818,"y":39},{"x":822,"y":44},{"x":825,"y":52},{"x":828,"y":61},{"x":829.5,"y":62.5},{"x":832,"y":52},{"x":836,"y":44},{"x":841,"y":40},{"x":845,"y":42},{"x":849,"y":47},{"x":852,"y":57},{"x":855,"y":59.5},{"x":858,"y":53},{"x":861.5,"y":38},{"x":865,"y":34},{"x":871,"y":31.5},{"x":884,"y":29},{"x":900,"y":28}
],
"c":[
{"s":1,"x":725,"y":7},{"s":1,"x":740,"y":7},{"s":1,"x":748,"y":9},{"s":1,"x":756,"y":7},{"s":1,"x":780,"y":7},{"s":1,"x":794,"y":8.5},{"s":1,"x":800,"y":7},{"s":1,"x":825,"y":7.5},{"s":1,"x":838,"y":10},{"s":1,"x":845,"y":14},{"s":1,"x":852,"y":10.5},{"s":1,"x":862,"y":7.5},{"s":1,"x":873,"y":9},{"s":1,"x":882,"y":7.5},{"s":1,"x":900,"y":7},
{"s":2,"x":725,"y":12},{"s":2,"x":740,"y":12},{"s":2,"x":748,"y":14},{"s":2,"x":756,"y":12},{"s":2,"x":780,"y":12},{"s":2,"x":794,"y":13.5},{"s":2,"x":800,"y":12},{"s":2,"x":825,"y":12.5},{"s":2,"x":838,"y":14.5},{"s":2,"x":845,"y":18},{"s":2,"x":852,"y":15},{"s":2,"x":862,"y":12.5},{"s":2,"x":873,"y":14},{"s":2,"x":882,"y":12.5},{"s":2,"x":900,"y":12},
{"s":3,"x":725,"y":17},{"s":3,"x":740,"y":17},{"s":3,"x":748,"y":19},{"s":3,"x":756,"y":17},{"s":3,"x":780,"y":17},{"s":3,"x":794,"y":18.5},{"s":3,"x":800,"y":17},{"s":3,"x":825,"y":17.5},{"s":3,"x":838,"y":19},{"s":3,"x":845,"y":22},{"s":3,"x":852,"y":19.5},{"s":3,"x":862,"y":17.5},{"s":3,"x":873,"y":19},{"s":3,"x":882,"y":17.5},{"s":3,"x":900,"y":17},
{"s":4,"x":725,"y":22},{"s":4,"x":740,"y":22},{"s":4,"x":748,"y":24},{"s":4,"x":756,"y":22},{"s":4,"x":780,"y":22},{"s":4,"x":794,"y":23.5},{"s":4,"x":800,"y":22},{"s":4,"x":825,"y":22.5},{"s":4,"x":838,"y":23.5},{"s":4,"x":845,"y":26},{"s":4,"x":852,"y":24},{"s":4,"x":862,"y":22.5},{"s":4,"x":873,"y":24},{"s":4,"x":882,"y":22.5},{"s":4,"x":900,"y":22},
{"s":5,"x":725,"y":27},{"s":5,"x":740,"y":27},{"s":5,"x":748,"y":29},{"s":5,"x":756,"y":27},{"s":5,"x":780,"y":27},{"s":5,"x":794,"y":28.5},{"s":5,"x":800,"y":27},{"s":5,"x":825,"y":27.5},{"s":5,"x":838,"y":28},{"s":5,"x":845,"y":30},{"s":5,"x":852,"y":28.5},{"s":5,"x":862,"y":27.5},{"s":5,"x":873,"y":29},{"s":5,"x":882,"y":27.5},{"s":5,"x":900,"y":27},
{"s":6,"x":725,"y":32},{"s":6,"x":740,"y":32},{"s":6,"x":748,"y":34},{"s":6,"x":756,"y":32},{"s":6,"x":780,"y":32},{"s":6,"x":794,"y":33.5},{"s":6,"x":800,"y":32},{"s":6,"x":825,"y":32.5},{"s":6,"x":838,"y":33},{"s":6,"x":845,"y":34},{"s":6,"x":852,"y":33},{"s":6,"x":862,"y":32.5},{"s":6,"x":873,"y":34},{"s":6,"x":882,"y":32.5},{"s":6,"x":900,"y":32},
{"s":7,"x":725,"y":37},{"s":7,"x":740,"y":37},{"s":7,"x":748,"y":39},{"s":7,"x":756,"y":37},{"s":7,"x":780,"y":37},{"s":7,"x":794,"y":38.5},{"s":7,"x":800,"y":37},{"s":7,"x":825,"y":37.5},{"s":7,"x":838,"y":38},{"s":7,"x":845,"y":39},{"s":7,"x":852,"y":38},{"s":7,"x":862,"y":37.5},{"s":7,"x":873,"y":38.5},{"s":7,"x":882,"y":37.5},{"s":7,"x":900,"y":37},
{"s":8,"x":725,"y":42},{"s":8,"x":740,"y":42},{"s":8,"x":748,"y":44},{"s":8,"x":756,"y":42},{"s":8,"x":785,"y":42},{"s":8,"x":794,"y":43},{"s":8,"x":800,"y":42},{"s":8,"x":807,"y":42},{"s":8,"x":815,"y":42},{"s":8,"x":835,"y":42.5},{"s":8,"x":843,"y":43},{"s":8,"x":846,"y":44.5},{"s":8,"x":851,"y":44.5},{"s":8,"x":856,"y":42.5},{"s":8,"x":865,"y":42},{"s":8,"x":900,"y":42},
{"s":9,"x":725,"y":47},{"s":9,"x":740,"y":47},{"s":9,"x":748,"y":49},{"s":9,"x":756,"y":47},{"s":9,"x":785,"y":47},{"s":9,"x":794,"y":48},{"s":9,"x":800,"y":47},{"s":9,"x":807,"y":47},{"s":9,"x":815,"y":47},{"s":9,"x":835,"y":47.5},{"s":9,"x":843,"y":47.8},{"s":9,"x":846,"y":49},{"s":9,"x":851,"y":51},{"s":9,"x":856,"y":48},{"s":9,"x":865,"y":47},{"s":9,"x":900,"y":47},
{"s":10,"x":725,"y":52},{"s":10,"x":740,"y":52},{"s":10,"x":748,"y":54},{"s":10,"x":756,"y":52},{"s":10,"x":785,"y":52},{"s":10,"x":794,"y":53},{"s":10,"x":800,"y":52},{"s":10,"x":807,"y":52},{"s":10,"x":815,"y":52},{"s":10,"x":835,"y":52.5},{"s":10,"x":843,"y":53},{"s":10,"x":846,"y":55},{"s":10,"x":851,"y":58},{"s":10,"x":856,"y":54},{"s":10,"x":865,"y":52},{"s":10,"x":900,"y":52},
{"s":11,"x":725,"y":57},{"s":11,"x":740,"y":57},{"s":11,"x":748,"y":59},{"s":11,"x":756,"y":57},{"s":11,"x":785,"y":57},{"s":11,"x":794,"y":58},{"s":11,"x":800,"y":57},{"s":11,"x":807,"y":57},{"s":11,"x":815,"y":57},{"s":11,"x":835,"y":57.5},{"s":11,"x":843,"y":58},{"s":11,"x":846,"y":60},{"s":11,"x":851,"y":64},{"s":11,"x":856,"y":59},{"s":11,"x":865,"y":57},{"s":11,"x":900,"y":57},
{"s":12,"x":725,"y":62},{"s":12,"x":740,"y":62},{"s":12,"x":748,"y":64},{"s":12,"x":756,"y":62},{"s":12,"x":785,"y":62},{"s":12,"x":794,"y":62},{"s":12,"x":800,"y":62},{"s":12,"x":807,"y":63.5},{"s":12,"x":815,"y":62},{"s":12,"x":835,"y":62.5},{"s":12,"x":843,"y":63},{"s":12,"x":846,"y":65},{"s":12,"x":851,"y":69},{"s":12,"x":856,"y":64},{"s":12,"x":865,"y":62},{"s":12,"x":900,"y":62},
{"s":13,"x":725,"y":67},{"s":13,"x":740,"y":67},{"s":13,"x":748,"y":69},{"s":13,"x":756,"y":67},{"s":13,"x":785,"y":67},{"s":13,"x":794,"y":67},{"s":13,"x":800,"y":67},{"s":13,"x":807,"y":68.5},{"s":13,"x":815,"y":67},{"s":13,"x":835,"y":67.5},{"s":13,"x":843,"y":68},{"s":13,"x":846,"y":70.5},{"s":13,"x":851,"y":72.5},{"s":13,"x":856,"y":68.5},{"s":13,"x":865,"y":67},{"s":13,"x":900,"y":67},
{"s":14,"x":725,"y":72},{"s":14,"x":740,"y":72},{"s":14,"x":748,"y":74},{"s":14,"x":756,"y":72},{"s":14,"x":785,"y":72},{"s":14,"x":794,"y":72},{"s":14,"x":800,"y":72},{"s":14,"x":807,"y":73.5},{"s":14,"x":815,"y":72},{"s":14,"x":835,"y":72.5},{"s":14,"x":843,"y":73.5},{"s":14,"x":846,"y":76},{"s":14,"x":851,"y":77},{"s":14,"x":856,"y":73},{"s":14,"x":865,"y":72},{"s":14,"x":900,"y":72},
{"s":15,"x":725,"y":77},{"s":15,"x":740,"y":77},{"s":15,"x":748,"y":79},{"s":15,"x":756,"y":77},{"s":15,"x":785,"y":77},{"s":15,"x":794,"y":77},{"s":15,"x":800,"y":77},{"s":15,"x":807,"y":78.5},{"s":15,"x":815,"y":77},{"s":15,"x":835,"y":77.5},{"s":15,"x":843,"y":79},{"s":15,"x":846,"y":82},{"s":15,"x":851,"y":81},{"s":15,"x":856,"y":78},{"s":15,"x":865,"y":77},{"s":15,"x":900,"y":77},
{"s":16,"x":725,"y":82},{"s":16,"x":740,"y":82},{"s":16,"x":748,"y":84},{"s":16,"x":756,"y":82},{"s":16,"x":785,"y":82},{"s":16,"x":794,"y":82},{"s":16,"x":800,"y":82},{"s":16,"x":807,"y":83.5},{"s":16,"x":815,"y":82},{"s":16,"x":835,"y":82.5},{"s":16,"x":843,"y":84.5},{"s":16,"x":846,"y":88},{"s":16,"x":851,"y":86.5},{"s":16,"x":856,"y":83},{"s":16,"x":865,"y":82},{"s":16,"x":900,"y":82},
{"s":17,"x":725,"y":87},{"s":17,"x":740,"y":87},{"s":17,"x":748,"y":89},{"s":17,"x":756,"y":87},{"s":17,"x":785,"y":87},{"s":17,"x":794,"y":87},{"s":17,"x":800,"y":87},{"s":17,"x":807,"y":88.5},{"s":17,"x":815,"y":87},{"s":17,"x":835,"y":87.5},{"s":17,"x":843,"y":89.5},{"s":17,"x":846,"y":94},{"s":17,"x":851,"y":91},{"s":17,"x":856,"y":88},{"s":17,"x":865,"y":87},{"s":17,"x":900,"y":87},
{"s":18,"x":725,"y":92},{"s":18,"x":740,"y":92},{"s":18,"x":748,"y":94},{"s":18,"x":756,"y":92},{"s":18,"x":785,"y":92},{"s":18,"x":794,"y":92},{"s":18,"x":800,"y":92},{"s":18,"x":807,"y":93.5},{"s":18,"x":815,"y":92},{"s":18,"x":835,"y":92.5},{"s":18,"x":843,"y":95},{"s":18,"x":846,"y":100},{"s":18,"x":851,"y":95},{"s":18,"x":856,"y":93},{"s":18,"x":865,"y":92},{"s":18,"x":900,"y":92},
{"s":19,"x":725,"y":97},{"s":19,"x":740,"y":97},{"s":19,"x":748,"y":99.5},{"s":19,"x":756,"y":97},{"s":19,"x":790,"y":97},{"s":19,"x":800,"y":97},{"s":19,"x":807,"y":99.5},{"s":19,"x":815,"y":97},{"s":19,"x":828,"y":97.5},{"s":19,"x":838,"y":99.4},{"s":19,"x":843,"y":102.2},{"s":19,"x":846,"y":105},{"s":19,"x":851,"y":101.4},{"s":19,"x":856,"y":98},{"s":19,"x":865,"y":97},{"s":19,"x":900,"y":96},
{"s":20,"x":725,"y":102},{"s":20,"x":740,"y":102},{"s":20,"x":748,"y":104.5},{"s":20,"x":756,"y":102},{"s":20,"x":790,"y":102},{"s":20,"x":800,"y":102},{"s":20,"x":807,"y":104.5},{"s":20,"x":815,"y":102},{"s":20,"x":828,"y":102.5},{"s":20,"x":838,"y":104.7},{"s":20,"x":843,"y":107.9},{"s":20,"x":846,"y":111},{"s":20,"x":851,"y":107},{"s":20,"x":856,"y":103},{"s":20,"x":865,"y":102},{"s":20,"x":900,"y":101},
{"s":21,"x":725,"y":107},{"s":21,"x":740,"y":107},{"s":21,"x":748,"y":109.5},{"s":21,"x":756,"y":107},{"s":21,"x":790,"y":107},{"s":21,"x":800,"y":107},{"s":21,"x":807,"y":109.5},{"s":21,"x":815,"y":107},{"s":21,"x":828,"y":107.5},{"s":21,"x":838,"y":110},{"s":21,"x":843,"y":113.5},{"s":21,"x":846,"y":117},{"s":21,"x":851,"y":112.5},{"s":21,"x":856,"y":108},{"s":21,"x":865,"y":107},{"s":21,"x":900,"y":106},
{"s":22,"x":725,"y":112},{"s":22,"x":740,"y":112},{"s":22,"x":748,"y":114.5},{"s":22,"x":756,"y":112},{"s":22,"x":790,"y":112},{"s":22,"x":800,"y":112},{"s":22,"x":807,"y":114.5},{"s":22,"x":815,"y":112},{"s":22,"x":828,"y":112.5},{"s":22,"x":838,"y":115.3},{"s":22,"x":843,"y":119.2},{"s":22,"x":846,"y":123},{"s":22,"x":851,"y":118},{"s":22,"x":856,"y":113},{"s":22,"x":865,"y":112},{"s":22,"x":900,"y":111},
{"s":23,"x":725,"y":117},{"s":23,"x":740,"y":117},{"s":23,"x":748,"y":119.5},{"s":23,"x":756,"y":117},{"s":23,"x":790,"y":117},{"s":23,"x":800,"y":117},{"s":23,"x":807,"y":119.5},{"s":23,"x":815,"y":117},{"s":23,"x":828,"y":117.5},{"s":23,"x":838,"y":120.6},{"s":23,"x":843,"y":124.8},{"s":23,"x":846,"y":129},{"s":23,"x":851,"y":123.6},{"s":23,"x":856,"y":118},{"s":23,"x":865,"y":117},{"s":23,"x":900,"y":116},
{"s":24,"x":725,"y":122},{"s":24,"x":740,"y":122},{"s":24,"x":748,"y":124.5},{"s":24,"x":756,"y":122},{"s":24,"x":790,"y":122},{"s":24,"x":800,"y":122},{"s":24,"x":807,"y":124.5},{"s":24,"x":815,"y":122},{"s":24,"x":828,"y":122.5},{"s":24,"x":838,"y":125.6},{"s":24,"x":843,"y":129.8},{"s":24,"x":846,"y":134},{"s":24,"x":851,"y":128.6},{"s":24,"x":856,"y":123},{"s":24,"x":865,"y":122},{"s":24,"x":900,"y":121},
{"s":25,"x":725,"y":126},{"s":25,"x":740,"y":126},{"s":25,"x":748,"y":128.5},{"s":25,"x":756,"y":126},{"s":25,"x":790,"y":126},{"s":25,"x":800,"y":126},{"s":25,"x":807,"y":128.5},{"s":25,"x":815,"y":126},{"s":25,"x":828,"y":126.5},{"s":25,"x":838,"y":130},{"s":25,"x":843,"y":134.5},{"s":25,"x":846,"y":139},{"s":25,"x":851,"y":133},{"s":25,"x":856,"y":127},{"s":25,"x":865,"y":126},{"s":25,"x":900,"y":125},
{"s":26,"x":725,"y":130},{"s":26,"x":740,"y":130},{"s":26,"x":748,"y":132.5},{"s":26,"x":756,"y":130},{"s":26,"x":790,"y":130},{"s":26,"x":800,"y":130},{"s":26,"x":807,"y":132.5},{"s":26,"x":815,"y":130},{"s":26,"x":828,"y":130.5},{"s":26,"x":838,"y":134},{"s":26,"x":843,"y":139},{"s":26,"x":846,"y":144},{"s":26,"x":851,"y":137.7},{"s":26,"x":856,"y":131},{"s":26,"x":865,"y":130},{"s":26,"x":900,"y":129},
{"s":27,"x":725,"y":133},{"s":27,"x":740,"y":133},{"s":27,"x":748,"y":135.5},{"s":27,"x":756,"y":133},{"s":27,"x":790,"y":133},{"s":27,"x":800,"y":133},{"s":27,"x":807,"y":135.5},{"s":27,"x":815,"y":133},{"s":27,"x":828,"y":133.5},{"s":27,"x":838,"y":137},{"s":27,"x":843,"y":142},{"s":27,"x":846,"y":147},{"s":27,"x":851,"y":140.7},{"s":27,"x":856,"y":134},{"s":27,"x":865,"y":133},{"s":27,"x":900,"y":132}
],
"g3":[
{"x":725,"y":4.7},{"x":738,"y":4.7},{"x":743,"y":6},{"x":747,"y":8.3},{"x":751,"y":6},{"x":756,"y":4.5},{"x":780,"y":4},{"x":790,"y":5},{"x":794,"y":7.5},{"x":798,"y":5},{"x":810,"y":5.2},{"x":826,"y":6.4},{"x":832,"y":9},{"x":836,"y":14.5},{"x":839.5,"y":27},{"x":842,"y":48},{"x":844,"y":72},{"x":845,"y":100},{"x":846,"y":135},{"x":847,"y":160},{"x":848,"y":170},{"x":849,"y":155},{"x":850,"y":125},{"x":851,"y":78},{"x":852.4,"y":41},{"x":855,"y":13},{"x":859,"y":7},{"x":868,"y":5.6},{"x":900,"y":5.6}
]
},
"vconcat":[
{
 "title":{"text":"Day 1","offset":-4},
 "width":495,"height":404,
 "encoding":{
  "x":{"field":"x","type":"quantitative","scale":{"domain":[725,900],"nice":false,"zero":false},"axis":{"title":"Frequency (cm⁻¹)","values":[725,737.5,750,762.5,775,787.5,800,812.5,825,837.5,850,862.5,875,887.5,900],"labelExpr":"datum.value % 25 == 0 ? datum.label : ''","labelOverlap":false,"labelPadding":7.5,"titlePadding":17.5}},
  "y":{"field":"y","type":"quantitative","scale":{"domain":[0,250],"nice":false,"zero":false},"axis":{"title":"Time (hours)","values":[0,10,20,30,40,50,60,70,80,90,100,110,120,130,140,150,160,170,180,190,200,210,220,230,240,250],"labelExpr":"datum.value == 0 ? '0' : datum.value == 110 ? '12' : datum.value == 210 ? '24' : ''","labelFontSize":{"condition":{"test":"datum.value == 0 || datum.value == 110 || datum.value == 210","value":15},"value":0},"labelOverlap":false,"labelPadding":4,"titlePadding":16}}
 },
 "layer":[
  {"data":{"name":"a"},"mark":{"type":"line","interpolate":"monotone","stroke":"#555","strokeWidth":1.4},"encoding":{"detail":{"field":"s"}}},
  {"data":{"name":"g1"},"mark":{"type":"line","interpolate":"monotone","stroke":"#1f8f3a","strokeWidth":2.2},"encoding":{}},
  {"data":{"values":[{"x":710.7,"y":25,"y2":225}]},"mark":{"type":"rule","stroke":"#333","strokeWidth":1.3},"encoding":{"y2":{"field":"y2"}}},
  {"data":{"values":[{"x":710.7,"y":225}]},"mark":{"type":"point","shape":"M-1,1.7L0,0L1,1.7","filled":false,"size":169,"stroke":"#333","strokeWidth":1.3,"opacity":1},"encoding":{}}
 ]
},
{
 "title":{"text":"Day 2","offset":2},
 "width":495,"height":403,
 "encoding":{
  "x":{"field":"x","type":"quantitative","scale":{"domain":[725,900],"nice":false,"zero":false},"axis":{"title":"Frequency (cm⁻¹)","values":[725,737.5,750,762.5,775,787.5,800,812.5,825,837.5,850,862.5,875,887.5,900],"labelExpr":"datum.value % 25 == 0 ? datum.label : ''","labelOverlap":false,"labelPadding":7.5,"titlePadding":16.5}},
  "y":{"field":"y","type":"quantitative","scale":{"domain":[0,150],"nice":false,"zero":false},"axis":{"title":"Time (hours)","values":[0,10,20,30,40,50,60,70,80,90,100,110,120,130,140,150,76,147],"labelExpr":"datum.value == 0 ? '25' : datum.value == 76 ? '37' : datum.value == 147 ? '48' : ''","labelFontSize":{"condition":{"test":"datum.value == 0 || datum.value == 76 || datum.value == 147","value":15},"value":0},"labelOverlap":false,"tickOpacity":{"condition":{"test":"datum.value % 10 != 0","value":0},"value":1},"labelPadding":4,"titlePadding":16}}
 },
 "layer":[
  {"data":{"name":"b"},"mark":{"type":"line","interpolate":"monotone","stroke":"#222","strokeWidth":1.3},"encoding":{"detail":{"field":"s"}}},
  {"data":{"name":"r2"},"mark":{"type":"line","interpolate":"monotone","stroke":"#c8282e","strokeWidth":2},"encoding":{}},
  {"data":{"values":[{"x":710.7,"y":16,"y2":136}]},"mark":{"type":"rule","stroke":"#333","strokeWidth":1.3},"encoding":{"y2":{"field":"y2"}}},
  {"data":{"values":[{"x":710.7,"y":136}]},"mark":{"type":"point","shape":"M-1,1.7L0,0L1,1.7","filled":false,"size":169,"stroke":"#333","strokeWidth":1.3,"opacity":1},"encoding":{}}
 ]
},
{
 "title":{"text":"Day 3","offset":-32},
 "width":495,"height":406,
 "encoding":{
  "x":{"field":"x","type":"quantitative","scale":{"domain":[725,900],"nice":false,"zero":false},"axis":{"title":"Frequency (cm⁻¹)","values":[725,737.5,750,762.5,775,787.5,800,812.5,825,837.5,850,862.5,875,887.5,900],"labelExpr":"datum.value % 25 == 0 ? datum.label : ''","labelOverlap":false,"labelPadding":3.5,"titlePadding":12}},
  "y":{"field":"y","type":"quantitative","scale":{"domain":[0,170],"nice":false,"zero":false},"axis":{"title":"Time (hours)","values":[0,10,20,30,40,50,60,70,80,90,100,110,120,130,140,150,160,170,4,75],"labelExpr":"datum.value == 4 ? '49' : datum.value == 75 ? '61' : datum.value == 130 ? '72' : ''","labelFontSize":{"condition":{"test":"datum.value == 4 || datum.value == 75 || datum.value == 130","value":15},"value":0},"labelOverlap":false,"tickOpacity":{"condition":{"test":"datum.value % 10 != 0","value":0},"value":1},"labelPadding":4,"titlePadding":16}}
 },
 "layer":[
  {"data":{"name":"c"},"mark":{"type":"line","interpolate":"monotone","stroke":"#555","strokeWidth":1.3},"encoding":{"detail":{"field":"s"}}},
  {"data":{"name":"g3"},"mark":{"type":"line","interpolate":"monotone","stroke":"#1f8f3a","strokeWidth":2.2},"encoding":{}},
  {"data":{"values":[{"x":710.7,"y":18,"y2":153}]},"mark":{"type":"rule","stroke":"#333","strokeWidth":1.3},"encoding":{"y2":{"field":"y2"}}},
  {"data":{"values":[{"x":710.7,"y":153}]},"mark":{"type":"point","shape":"M-1,1.7L0,0L1,1.7","filled":false,"size":169,"stroke":"#333","strokeWidth":1.3,"opacity":1},"encoding":{}}
 ]
}
]
}
